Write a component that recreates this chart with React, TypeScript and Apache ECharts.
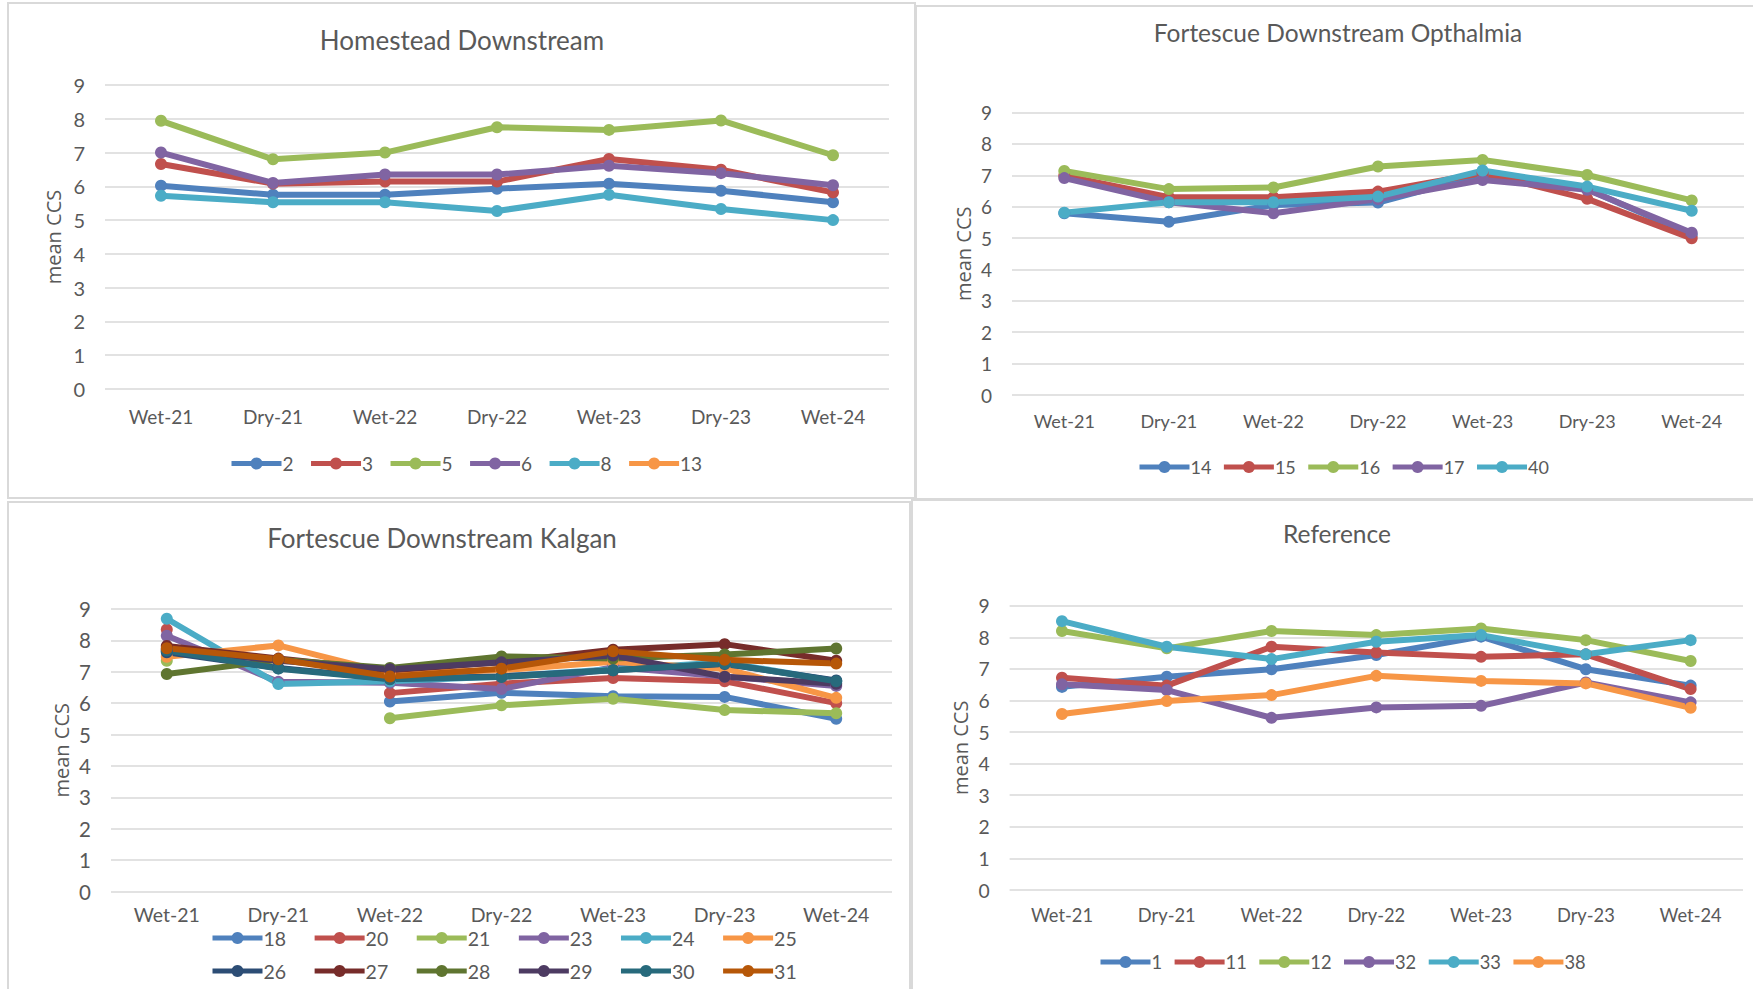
import React, { useEffect, useRef } from "react";
import * as echarts from "echarts";

// Sampling seasons shared by every panel
const seasons = ["Wet-21", "Dry-21", "Wet-22", "Dry-22", "Wet-23", "Dry-23", "Wet-24"];

// Homestead Downstream sites (mean CCS per season)
const homesteadSites = ["2", "3", "5", "6", "8", "13"];
const site2 = [6.02, 5.75, 5.75, 5.93, 6.08, 5.87, 5.53];
const site3 = [6.66, 6.08, 6.14, 6.14, 6.81, 6.49, 5.82];
const site5 = [7.94, 6.8, 7.0, 7.75, 7.67, 7.95, 6.92];
const site6 = [7.0, 6.1, 6.35, 6.35, 6.61, 6.39, 6.03];
const site8 = [5.72, 5.53, 5.53, 5.27, 5.75, 5.33, 5.0];
const site13: (number | null)[] = [null, null, null, null, null, null, null];

// Fortescue Downstream Opthalmia sites
const opthalmiaSites = ["14", "15", "16", "17", "40"];
const site14 = [5.79, 5.52, 6.05, 6.13, 7.02, 6.56, 5.1];
const site15 = [6.99, 6.3, 6.3, 6.48, 7.07, 6.25, 4.99];
const site16 = [7.14, 6.56, 6.61, 7.28, 7.49, 7.01, 6.2];
const site17 = [6.91, 6.14, 5.79, 6.24, 6.85, 6.54, 5.17];
const site40 = [5.81, 6.14, 6.14, 6.32, 7.15, 6.64, 5.87];

// Fortescue Downstream Kalgan sites
const kalganSitesA = ["18", "20", "21", "23", "24", "25"];
const kalganSitesB = ["26", "27", "28", "29", "30", "31"];
const site18 = [7.65, null, 6.05, 6.33, 6.22, 6.2, 5.5];
const site20 = [8.35, null, 6.32, 6.62, 6.8, 6.7, 6.0];
const site21 = [7.35, null, 5.52, 5.93, 6.14, 5.78, 5.68];
const site23 = [8.15, 6.68, 6.65, 6.45, 7.15, 6.85, 6.55];
const site24 = [8.69, 6.61, 6.7, 6.85, 7.08, 7.3, 6.7];
const site25 = [7.48, 7.84, 6.95, 7.05, 7.32, 7.1, 6.17];
const site26 = [7.62, 7.12, 6.78, 6.85, 7.05, 7.25, 6.72];
const site27 = [7.82, 7.42, 7.05, 7.3, 7.7, 7.88, 7.35];
const site28 = [6.93, 7.38, 7.12, 7.49, 7.42, 7.55, 7.74];
const site29 = [7.72, 7.35, 7.08, 7.3, 7.52, 6.84, 6.62];
const site30 = [7.68, 7.1, 6.76, 6.83, 7.05, 7.26, 6.7];
const site31 = [7.75, 7.4, 6.85, 7.1, 7.65, 7.38, 7.26];

// Reference sites
const referenceSites = ["1", "11", "12", "32", "33", "38"];
const site1 = [6.43, 6.75, 6.99, 7.44, 8.02, 6.99, 6.47];
const site11 = [6.72, 6.47, 7.7, 7.52, 7.38, 7.46, 6.36];
const site12 = [8.2, 7.65, 8.2, 8.07, 8.28, 7.91, 7.25];
const site32 = [6.51, 6.33, 5.45, 5.78, 5.83, 6.57, 5.94];
const site33 = [8.51, 7.7, 7.31, 7.86, 8.07, 7.46, 7.91];
const site38 = [5.57, 5.98, 6.17, 6.78, 6.62, 6.54, 5.77];

// Office palette: six accents and their darker shades
const accents = ["#4f81bd", "#c0504d", "#9bbb59", "#8064a2", "#4bacc6", "#f79646"];
const darkAccents = ["#2c4d75", "#772c2a", "#5f7530", "#4d3b62", "#276a7c", "#b65708"];

const FONT = "Lato, 'Noto Sans', sans-serif";
const TEXT = "#595959";
const GRID_LINE = "#d9d9d9";

type Panel = {
  title: string;
  titleSize: number;
  titleX: number;
  titleY: number;
  fontSize: number;
  grid: { left: number; top: number; width: number; height: number };
  labelMargin: number;
  nameGap: number;
  legends: { left: number; top: number; gap: number; names: string[] }[];
  lines: { name: string; values: (number | null)[]; color: string }[];
};

const panels: Panel[] = [
  {
    title: "Homestead Downstream",
    titleSize: 26,
    titleX: 462,
    titleY: 27,
    fontSize: 19,
    grid: { left: 105, top: 85, width: 784, height: 304 },
    labelMargin: 18,
    nameGap: 42,
    legends: [{ left: 229, top: 454, gap: 15, names: homesteadSites }],
    lines: [site2, site3, site5, site6, site8, site13].map((values, i) => ({
      name: homesteadSites[i],
      values,
      color: accents[i],
    })),
  },
  {
    title: "Fortescue Downstream Opthalmia",
    titleSize: 24.5,
    titleX: 1338,
    titleY: 20,
    fontSize: 18,
    grid: { left: 1012, top: 112.5, width: 732, height: 282.5 },
    labelMargin: 17,
    nameGap: 38.5,
    legends: [{ left: 1137, top: 458, gap: 10, names: opthalmiaSites }],
    lines: [site14, site15, site16, site17, site40].map((values, i) => ({
      name: opthalmiaSites[i],
      values,
      color: accents[i],
    })),
  },
  {
    title: "Fortescue Downstream Kalgan",
    titleSize: 26,
    titleX: 442,
    titleY: 525,
    fontSize: 19.5,
    grid: { left: 111, top: 609, width: 781, height: 282.5 },
    labelMargin: 13,
    nameGap: 39.5,
    legends: [
      { left: 210, top: 928, gap: 26, names: kalganSitesA },
      { left: 210, top: 961, gap: 26, names: kalganSitesB },
    ],
    lines: [
      ...[site18, site20, site21, site23, site24, site25].map((values, i) => ({
        name: kalganSitesA[i],
        values,
        color: accents[i],
      })),
      ...[site26, site27, site28, site29, site30, site31].map((values, i) => ({
        name: kalganSitesB[i],
        values,
        color: darkAccents[i],
      })),
    ],
  },
  {
    title: "Reference",
    titleSize: 24.5,
    titleX: 1337,
    titleY: 521,
    fontSize: 18.3,
    grid: { left: 1009.6, top: 605.7, width: 733.4, height: 284.3 },
    labelMargin: 16,
    nameGap: 39,
    legends: [{ left: 1098, top: 953, gap: 10, names: referenceSites }],
    lines: [site1, site11, site12, site32, site33, site38].map((values, i) => ({
      name: referenceSites[i],
      values,
      color: accents[i],
    })),
  },
];

// Light frames around the four chart areas
const frames = [
  { x: 8, y: 3, width: 907, height: 495 },
  { x: 916, y: 6, width: 850, height: 493 },
  { x: 8, y: 502, width: 902, height: 500 },
  { x: 912, y: 500, width: 850, height: 500 },
];

function buildOption(): echarts.EChartsOption {
  const title: any[] = [];
  const grid: any[] = [];
  const xAxis: any[] = [];
  const yAxis: any[] = [];
  const legend: any[] = [];
  const series: any[] = [];

  panels.forEach((p, idx) => {
    title.push({
      text: p.title,
      left: p.titleX,
      top: p.titleY,
      textAlign: "center",
      padding: 0,
      textStyle: { fontFamily: FONT, fontSize: p.titleSize, fontWeight: "normal", color: TEXT },
    });
    grid.push({ ...p.grid, containLabel: false });
    xAxis.push({
      type: "category",
      gridIndex: idx,
      data: seasons,
      boundaryGap: true,
      axisLine: { show: false },
      axisTick: { show: false },
      axisLabel: { margin: p.labelMargin, fontFamily: FONT, fontSize: p.fontSize, color: TEXT },
    });
    yAxis.push({
      type: "value",
      gridIndex: idx,
      min: 0,
      max: 9,
      interval: 1,
      name: "mean CCS",
      nameLocation: "middle",
      nameRotate: 90,
      nameGap: p.nameGap,
      nameTextStyle: { fontFamily: "'Open Sans', sans-serif", fontSize: 20, color: TEXT },
      axisLine: { show: false },
      axisTick: { show: false },
      splitLine: { lineStyle: { color: GRID_LINE, width: 1.5 } },
      axisLabel: { margin: 20, fontFamily: FONT, fontSize: p.fontSize + 1, color: TEXT },
    });
    p.legends.forEach((l) => {
      legend.push({
        data: l.names,
        left: l.left,
        top: l.top,
        orient: "horizontal",
        padding: 0,
        itemGap: l.gap,
        itemWidth: 50,
        itemHeight: 15,
        selectedMode: false,
        lineStyle: { width: 5 },
        textStyle: { fontFamily: FONT, fontSize: p.fontSize, color: TEXT, padding: [0, 0, 0, -4] },
      });
    });
    p.lines.forEach((s) => {
      series.push({
        type: "line",
        name: s.name,
        xAxisIndex: idx,
        yAxisIndex: idx,
        data: s.values,
        connectNulls: false,
        symbol: "circle",
        symbolSize: 12,
        showSymbol: true,
        color: s.color,
        lineStyle: { width: 6, color: s.color },
        itemStyle: { color: s.color },
        emphasis: { disabled: true },
      });
    });
  });

  return {
    animation: false,
    backgroundColor: "#ffffff",
    title,
    grid,
    xAxis,
    yAxis,
    legend,
    series,
    graphic: frames.map((f) => ({
      type: "rect",
      shape: f,
      silent: true,
      style: { fill: "none", stroke: GRID_LINE, lineWidth: 2 },
    })),
  };
}

export default function App() {
  const ref = useRef<HTMLDivElement>(null);

  useEffect(() => {
    if (!ref.current) return;
    const chart = echarts.init(ref.current, undefined, { renderer: "svg" });
    chart.setOption(buildOption());
    return () => chart.dispose();
  }, []);

  return (
    <div
      ref={ref}
      style={{ position: "fixed", left: 0, top: 0, width: 1753, height: 989, background: "#fff" }}
    />
  );
}
